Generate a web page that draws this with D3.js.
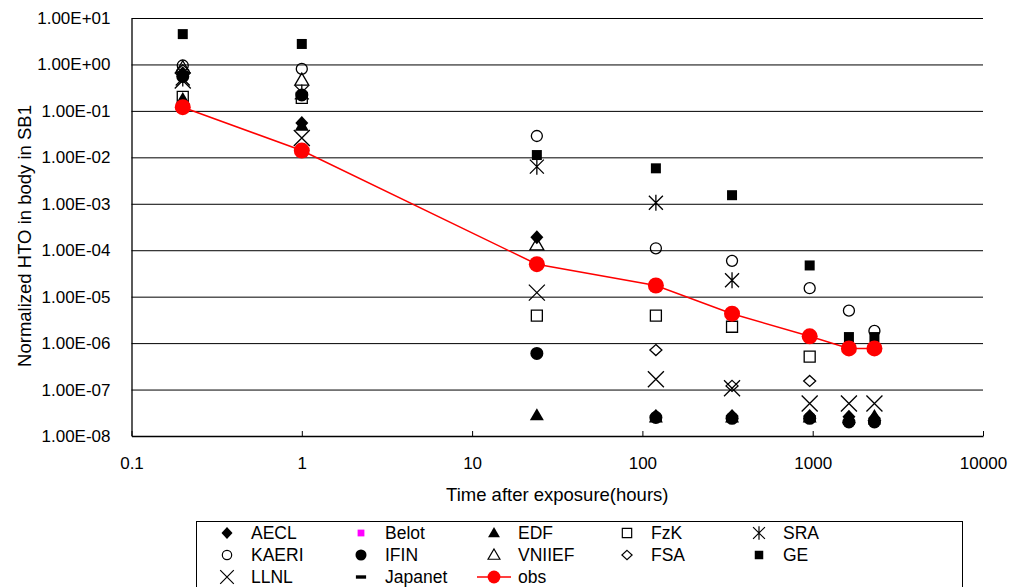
<!DOCTYPE html>
<html>
<head>
<meta charset="utf-8">
<script src="https://cdn.jsdelivr.net/npm/d3@7"></script>
<style>
    body { margin: 0; background: #fff; }
    svg text { font-family: "Liberation Sans", Arial, sans-serif; fill: #000; }
    .axis path, .axis line { stroke: #000; }
    .grid line { stroke: #000; stroke-width: 1; }
    .grid path { stroke: none; }
</style>
</head>
<body>
<div id="chart" style="width:1009px;height:587px"></div>
<script>
// hours after exposure, one column of points per time
const times = [0.2, 1, 24, 120, 336, 960, 1632, 2304];

// normalized HTO in body (null = not plotted / hidden)
const AECL    = [0.65, 0.055, 1.9e-4, 2.7e-8, 2.7e-8, 2.7e-8, 2.6e-8, 2.4e-8];
const Belot   = [null, null, null, null, null, null, null, null];
const EDF     = [0.18, 0.048, 2.8e-8, 2.5e-8, 2.5e-8, 2.5e-8, 2.4e-8, 2.7e-8];
const FzK     = [0.2, 0.19, 3.9e-6, 3.9e-6, 2.25e-6, 5.1e-7, null, null];
const SRA     = [0.5, 0.25, 6.3e-3, 1.05e-3, 2.25e-5, null, null, null];
const KAERI   = [0.95, 0.8, 0.0288, 1.1e-4, 5.9e-5, 1.52e-5, 5.0e-6, 1.83e-6];
const IFIN    = [0.55, 0.22, 6.0e-7, 2.5e-8, 2.4e-8, 2.4e-8, 2.0e-8, 2.0e-8];
const VNIIEF  = [0.85, 0.46, 1.3e-4, null, null, null, null, null];
const FSA     = [0.75, null, null, 7.1e-7, 1.2e-7, 1.53e-7, null, null];
const GE      = [4.5, 2.76, 0.0112, 5.8e-3, 1.53e-3, 4.7e-5, 1.35e-6, 1.35e-6];
const LLNL    = [0.45, 0.026, 1.22e-5, 1.67e-7, 1.07e-7, 5.0e-8, 5.0e-8, 5.0e-8];
const Japanet = [null, null, null, 2.2e-8, 2.2e-8, 2.2e-8, 1.9e-8, 1.9e-8];
const obs     = [0.12, 0.014, 5.0e-5, 1.74e-5, 4.3e-6, 1.4e-6, 7.7e-7, 7.7e-7];

const seriesNames = ['AECL', 'Belot', 'EDF', 'FzK', 'SRA', 'KAERI', 'IFIN', 'VNIIEF', 'FSA', 'GE', 'LLNL', 'Japanet', 'obs'];
const seriesValues = [AECL, Belot, EDF, FzK, SRA, KAERI, IFIN, VNIIEF, FSA, GE, LLNL, Japanet, obs];

const xTicks = [0.1, 1, 10, 100, 1000, 10000];
const xTickLabels = ['0.1', '1', '10', '100', '1000', '10000'];
const yTicks = [1e1, 1e0, 1e-1, 1e-2, 1e-3, 1e-4, 1e-5, 1e-6, 1e-7, 1e-8];
const yTickLabels = ['1.00E+01', '1.00E+00', '1.00E-01', '1.00E-02', '1.00E-03', '1.00E-04', '1.00E-05', '1.00E-06', '1.00E-07', '1.00E-08'];

// marker look for each series
const markers = {
    'AECL':    {d: 'M0,-7L6.5,0L0,7L-6.5,0Z', fill: '#000', stroke: 'none'},
    'Belot':   {d: 'M-4,-4H4V4H-4Z', fill: '#FF00FF', stroke: 'none'},
    'EDF':     {d: 'M0,-7L7,5L-7,5Z', fill: '#000', stroke: 'none'},
    'FzK':     {d: 'M-5.5,-5.5H5.5V5.5H-5.5Z', fill: 'none', stroke: '#000'},
    'SRA':     {d: 'M-7,-7L7,7M7,-7L-7,7M0,-8V8', fill: 'none', stroke: '#000'},
    'KAERI':   {d: 'M5.5,0A5.5,5.5 0 1,1 -5.5,0A5.5,5.5 0 1,1 5.5,0Z', fill: 'none', stroke: '#000'},
    'IFIN':    {d: 'M6.5,0A6.5,6.5 0 1,1 -6.5,0A6.5,6.5 0 1,1 6.5,0Z', fill: '#000', stroke: 'none'},
    'VNIIEF':  {d: 'M0,-7L7,5L-7,5Z', fill: 'none', stroke: '#000'},
    'FSA':     {d: 'M0,-5.5L6,0L0,5.5L-6,0Z', fill: 'none', stroke: '#000'},
    'GE':      {d: 'M-5,-5H5V5H-5Z', fill: '#000', stroke: 'none'},
    'LLNL':    {d: 'M-8,-8L8,8M8,-8L-8,8', fill: 'none', stroke: '#000'},
    'Japanet': {d: 'M-6,-2H6V2H-6Z', fill: '#000', stroke: 'none'},
    'obs':     {d: 'M8,0A8,8 0 1,1 -8,0A8,8 0 1,1 8,0Z', fill: '#FF0000', stroke: 'none'}
};

const cfg = {
    'width': 1009,
    'height': 587,
    'left': 131.5,
    'right': 983,
    'top': 18,
    'bottom': 436,
    'fontsize': '17px',
    'titlesize': '18.5px',
    'legendsize': '17.5px'
};

const svg = d3.select('#chart').append('svg')
    .attr('width', cfg.width)
    .attr('height', cfg.height);

const xScale = d3.scaleLog().domain([0.1, 10000]).range([cfg.left, cfg.right]);
const yScale = d3.scaleLog().domain([1e-8, 10]).range([cfg.bottom, cfg.top]);

// GRIDLINES
svg.append('g')
    .attr('class', 'grid')
    .attr('transform', 'translate(' + cfg.left + ',0)')
    .call(d3.axisLeft(yScale)
        .tickValues(yTicks.slice(0, -1))
        .tickSize(-(cfg.right - cfg.left))
        .tickFormat(''));

// AXIS
const xAxis = svg.append('g')
    .attr('class', 'axis axis--x')
    .attr('transform', 'translate(0,' + cfg.bottom + ')')
    .call(d3.axisBottom(xScale)
        .tickValues(xTicks)
        .tickFormat(function(d, i){ return xTickLabels[i]; })
        .tickSizeInner(-5)
        .tickSizeOuter(0)
        .tickPadding(21));
xAxis.selectAll('text').style('font-size', cfg.fontsize).attr('fill', '#000');
xAxis.select('.domain').attr('stroke-width', 1.3);

const yAxis = svg.append('g')
    .attr('class', 'axis axis--y')
    .attr('transform', 'translate(' + cfg.left + ',0)')
    .call(d3.axisLeft(yScale)
        .tickValues(yTicks)
        .tickFormat(function(d, i){ return yTickLabels[i]; })
        .tickSize(0)
        .tickPadding(21));
yAxis.selectAll('text').style('font-size', cfg.fontsize).attr('fill', '#000');
yAxis.select('.domain').attr('stroke-width', 1.3);

// AXIS TITLES
svg.append('text')
    .attr('text-anchor', 'middle')
    .attr('x', (cfg.left + cfg.right) / 2)
    .attr('y', 501)
    .style('font-size', cfg.titlesize)
    .text('Time after exposure(hours)');

svg.append('text')
    .attr('text-anchor', 'middle')
    .attr('transform', 'translate(25,236) rotate(-90)')
    .attr('dy', '0.35em')
    .style('font-size', '18.5px')
    .text('Normalized HTO in body in SB1');

// OBS LINE
const line = d3.line()
    .x(function(d){ return xScale(d.t); })
    .y(function(d){ return yScale(d.v); });

const obsPoints = times.map(function(t, i){ return {'t': t, 'v': obs[i]}; });
svg.append('path')
    .attr('d', line(obsPoints))
    .attr('fill', 'none')
    .attr('stroke', '#FF0000')
    .attr('stroke-width', 1.5);

// POINTS
seriesNames.forEach(function(name, k){
    const m = markers[name];
    const pts = [];
    seriesValues[k].forEach(function(v, i){
        if (v !== null) pts.push({'t': times[i], 'v': v});
    });
    svg.append('g')
        .attr('class', 'series series--' + name)
        .selectAll('path')
        .data(pts).enter()
        .append('path')
        .attr('transform', function(d){ return 'translate(' + xScale(d.t) + ',' + yScale(d.v) + ')'; })
        .attr('d', m.d)
        .attr('fill', m.fill)
        .attr('stroke', m.stroke)
        .attr('stroke-width', 1.3);
});

// LEGEND
const legendCols = [227, 361, 494, 627, 759];
const legendRows = [533, 555, 577];

svg.append('rect')
    .attr('x', 196.5)
    .attr('y', 521.5)
    .attr('width', 766)
    .attr('height', 80)
    .attr('fill', 'none')
    .attr('stroke', '#000')
    .attr('stroke-width', 1);

seriesNames.forEach(function(name, k){
    const cx = legendCols[k % 5];
    const cy = legendRows[Math.floor(k / 5)];
    const m = markers[name];
    const g = svg.append('g').attr('transform', 'translate(' + cx + ',' + cy + ')');
    if (name === 'obs') {
        g.append('line')
            .attr('x1', -17).attr('x2', 17)
            .attr('stroke', '#FF0000')
            .attr('stroke-width', 1.5);
    }
    g.append('path')
        .attr('d', m.d)
        .attr('transform', 'scale(' + (name === 'obs' ? 0.8 : 0.85) + ')')
        .attr('fill', m.fill)
        .attr('stroke', m.stroke)
        .attr('stroke-width', 1.4);
    g.append('text')
        .attr('x', 24)
        .attr('dy', '0.35em')
        .style('font-size', cfg.legendsize)
        .text(name);
});
</script>
</body>
</html>
